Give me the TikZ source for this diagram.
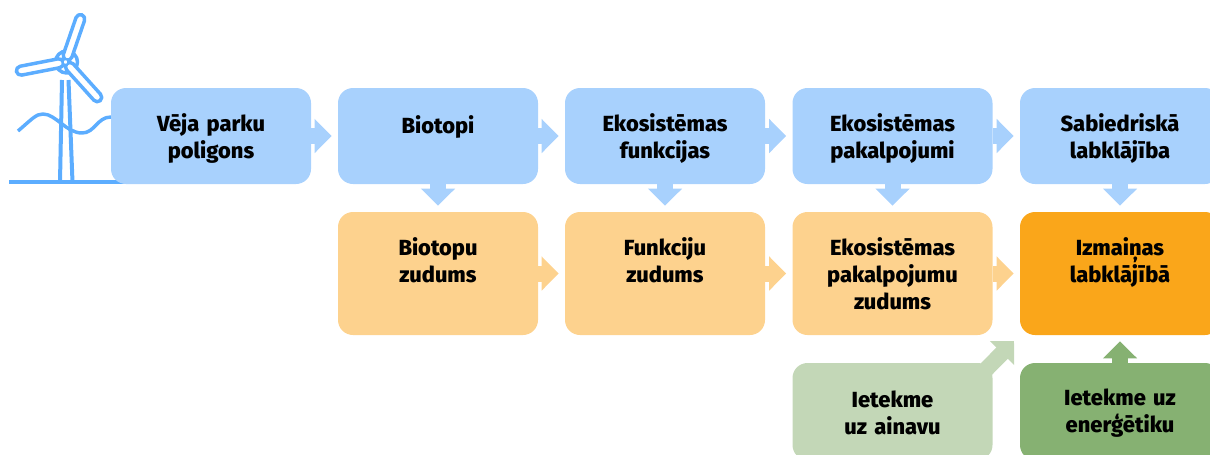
\documentclass[tikz,border=0pt]{standalone}
\usepackage{fontspec}
\setmainfont{Fira Sans}[BoldFont={Fira Sans ExtraBold}]
\usetikzlibrary{
    calc,
    arrows.meta
}
\definecolor{skybox}{HTML}{A8D1FD}
\definecolor{sandbox}{HTML}{FDD28E}
\definecolor{amberbox}{HTML}{FAA61A}
\definecolor{mintbox}{HTML}{C3D7B7}
\definecolor{mossbox}{HTML}{86B172}
\definecolor{turbine}{HTML}{5CADFF}
\tikzset{
    stagebox/.style={rounded corners=11.25pt, inner sep=0pt, align=center,
        text width=150pt, minimum width=150pt, font=\fontsize{16.4}{20.2}\selectfont\bfseries},
    upperbox/.style={stagebox, fill=skybox, minimum height=72pt,
        execute at begin node={\rule{0pt}{16.5pt}}},
    lowerbox/.style={stagebox, fill=sandbox, minimum height=92.25pt},
    bottombox/.style={stagebox, minimum height=72.75pt,
        execute at begin node={\rule{0pt}{14.5pt}}},
    flowarrow/.style={line width=12pt, shorten >=4.5pt,
        -{Triangle[length=12.75pt,width=24.75pt]}},
    turbineline/.style={draw=turbine, line width=2.6pt, line join=round}
}
\begin{document}
\begin{tikzpicture}[x=0.75pt,y=-0.75pt]
      \useasboundingbox (0,0) rectangle (1210,454);
      \clip (0,0) rectangle (1210,454);
      % turbine
      \draw[turbineline, line width=3.6pt] (9,182) -- (152,182);
      \draw[turbineline, line width=3pt] (62,80) -- (60,182) (68.5,80) -- (72.5,182);
      \draw[turbineline] (18,131) .. controls (32,119) and (36,114) .. (43,114)
        .. controls (56,114) and (66,133) .. (82,133)
        .. controls (95,133) and (97,117) .. (111,117);
      \draw[turbineline] (66.5,62) circle (11);
      \foreach \tipangle/\tiplength in {71/50,191/50,312/52}{
        \draw[turbineline, fill=white, rotate around={\tipangle:(65.5,62)}, rounded corners=3.5pt]
          (67.5,57.5) rectangle (65.5+\tiplength,66.5);
      }
      \draw[turbineline, fill=white, line width=1.6pt] (65.5,62) circle (3);
      % top row
      \node[upperbox] (polygon) at (211,136) {Vēja parku\\poligons};
      \node[upperbox] (biotopes) at (438,136) {Biotopi\\~};
      \node[upperbox] (functions) at (665,136) {Ekosistēmas\\funkcijas};
      \node[upperbox] (services) at (892.5,136) {Ekosistēmas\\pakalpojumi};
      \node[upperbox] (welfare) at (1120,136) {Sabiedriskā\\labklājība};
      % middle row
      \node[lowerbox] (biotopeloss) at (438,273.5) {Biotopu\\zudums\\~};
      \node[lowerbox] (functionloss) at (665,273.5) {Funkciju\\zudums\\~};
      \node[lowerbox] (serviceloss) at (892.5,273.5) {Ekosistēmas\\pakalpojumu\\zudums};
      \node[lowerbox, fill=amberbox] (welfarechange) at (1120,273.5) {Izmaiņas\\labklājībā\\~};
      % bottom row
      \node[bottombox, fill=mintbox] (landscape) at (892.5,411.5) {Ietekme\\uz ainavu};
      \node[bottombox, fill=mossbox] (energy) at (1120,411.5) {Ietekme uz\\enerģētiku};
      \coordinate (cornerend) at (1014,341);
      % arrows
      \foreach \from/\to in {polygon/biotopes,biotopes/functions,functions/services,services/welfare}{
        \draw[flowarrow, skybox] (\from.east) -- (\to.west);
      }
      \foreach \from/\to in {biotopes/biotopeloss,functions/functionloss,services/serviceloss,welfare/welfarechange}{
        \draw[flowarrow, skybox] (\from.south) -- (\to.north);
      }
      \foreach \from/\to in {biotopeloss/functionloss,functionloss/serviceloss,serviceloss/welfarechange}{
        \draw[flowarrow, sandbox] (\from.east) -- (\to.west);
      }
      \draw[flowarrow, mintbox, shorten >=0pt] ($(landscape.north east)+(-10,10)$) -- (cornerend);
      \draw[flowarrow, mossbox] (energy.north) -- (welfarechange.south);
    \end{tikzpicture}
\end{document}
